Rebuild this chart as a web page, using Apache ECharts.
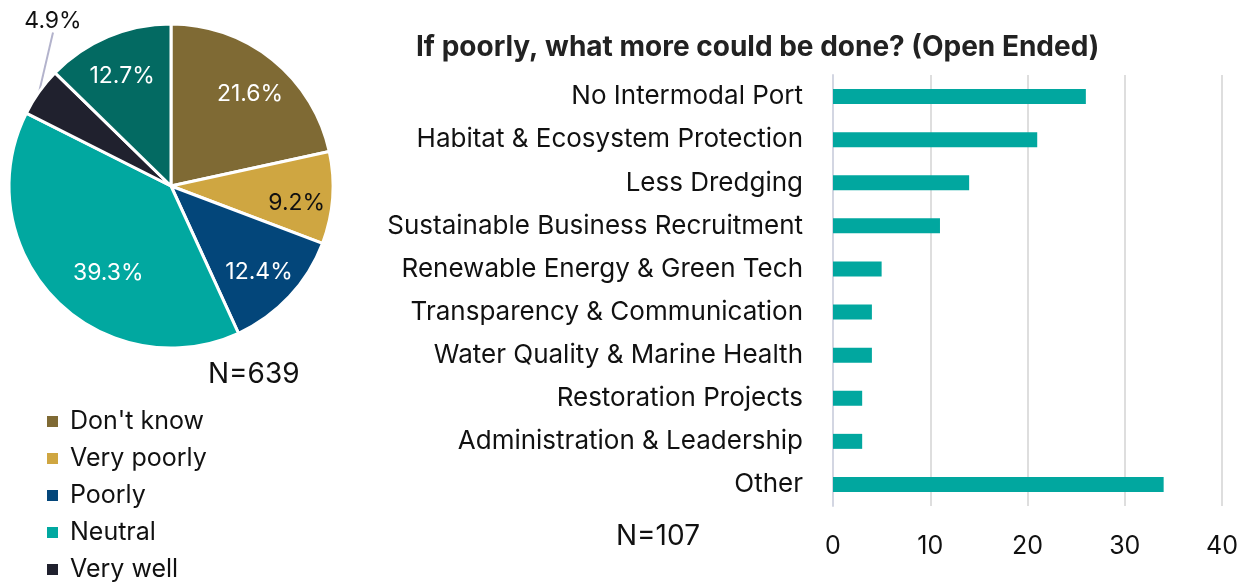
<!DOCTYPE html>
<html>
<head>
<meta charset="utf-8">
<style>
  html, body { margin: 0; padding: 0; background: #ffffff; }
  #chart { width: 1247px; height: 582px; }
</style>
<script src="https://cdn.jsdelivr.net/npm/echarts@6/dist/echarts.min.js"></script>
</head>
<body>
<div id="chart"></div>
<script>
// Rating of how well things are going (share of respondents, %)
const ratingNames = ["Don't know", 'Very poorly', 'Poorly', 'Neutral', 'Very well', 'Well'];
const ratingShares = [21.6, 9.2, 12.4, 39.3, 4.9, 12.7];
const ratingColors = ['#7f6a34', '#cfa641', '#03467a', '#01a8a0', '#20212e', '#036a62'];
const ratingN = 'N=639';

// Open-ended suggestions from those who answered "poorly"
const ideaNames = [
  'No Intermodal Port',
  'Habitat & Ecosystem Protection',
  'Less Dredging',
  'Sustainable Business Recruitment',
  'Renewable Energy & Green Tech',
  'Transparency & Communication',
  'Water Quality & Marine Health',
  'Restoration Projects',
  'Administration & Leadership',
  'Other'
];
const ideaCounts = [26, 21, 14, 11, 5, 4, 4, 3, 3, 34];
const ideaTicks = [0, 10, 20, 30, 40];
const ideaN = 'N=107';
const ideaTitle = 'If poorly, what more could be done? (Open Ended)';

const FONT = 'Inter, "Open Sans", sans-serif';
const OUTSIDE_IDX = 4; // the thin slice gets its label outside

// small hand nudges for a few inside labels
const labelNudge = {
  "Don't know": { dy: 6 },
  'Very poorly': { dy: 8 },
  'Poorly': { dx: -4 },
  'Neutral': { dx: 28 },
  'Well': { dy: 6 }
};

const chart = echarts.init(document.getElementById('chart'), null, { renderer: 'canvas' });

// Filled slices; only the thin slice carries its own (outside) label
const pieData = ratingNames.map((name, i) => ({
  name,
  value: ratingShares[i],
  itemStyle: { color: ratingColors[i] },
  label: { show: i === OUTSIDE_IDX },
  labelLine: { show: i === OUTSIDE_IDX }
}));

// Transparent ring used only to place the inside percentage labels further out
const labelRingData = ratingNames.map((name, i) => ({
  name,
  value: ratingShares[i],
  label: {
    show: i !== OUTSIDE_IDX,
    color: i === 1 ? '#111111' : '#ffffff'
  }
}));

const option = {
  animation: false,
  backgroundColor: '#ffffff',
  textStyle: { fontFamily: FONT },
  title: {
    text: ideaTitle,
    left: 411,
    top: 29,
    textStyle: { fontFamily: FONT, fontWeight: 'bold', fontSize: 28, color: '#222222' }
  },
  legend: {
    data: ratingNames,
    orient: 'vertical',
    left: 40,
    top: 404,
    height: 260,
    icon: 'rect',
    itemWidth: 13,
    itemHeight: 13,
    itemGap: 12,
    selectedMode: false,
    textStyle: { fontFamily: FONT, fontSize: 25, color: '#111111', padding: [0, 0, 0, 6] }
  },
  grid: { left: 833, right: 25, top: 75, bottom: 76 },
  xAxis: {
    type: 'value',
    min: ideaTicks[0],
    max: ideaTicks[ideaTicks.length - 1],
    interval: ideaTicks[1] - ideaTicks[0],
    axisLine: { show: false },
    axisTick: { show: false },
    splitLine: { show: true, lineStyle: { color: '#dedede', width: 2 } },
    axisLabel: { margin: 28, fontSize: 25, color: '#111111', fontFamily: FONT }
  },
  yAxis: {
    type: 'category',
    data: ideaNames,
    inverse: true,
    axisLine: { show: true, lineStyle: { color: '#d3d6e2', width: 2 } },
    axisTick: { show: false },
    axisLabel: { margin: 30, fontSize: 26, color: '#111111', fontFamily: FONT }
  },
  series: [
    {
      type: 'bar',
      data: ideaCounts,
      barWidth: 15,
      itemStyle: { color: '#01a79f' },
      silent: true
    },
    {
      type: 'pie',
      center: [171, 186],
      radius: [0, 162],
      startAngle: 90,
      clockwise: true,
      silent: true,
      itemStyle: { borderColor: '#ffffff', borderWidth: 3 },
      label: {
        position: 'outside',
        formatter: '{c}%',
        fontSize: 23,
        fontFamily: FONT,
        color: '#111111',
        overflow: 'none',
        bleedMargin: 0
      },
      labelLine: { length: 8, length2: 0, lineStyle: { color: '#b3b3cc', width: 2 } },
      labelLayout: (p) => (p.dataIndex === OUTSIDE_IDX
        ? { x: 53, y: 21, align: 'center', verticalAlign: 'middle' }
        : {}),
      data: pieData
    },
    {
      type: 'pie',
      center: [171, 186],
      radius: [84, 162],
      startAngle: 90,
      clockwise: true,
      silent: true,
      itemStyle: { color: 'rgba(0,0,0,0)' },
      label: {
        position: 'inside',
        formatter: '{c}%',
        fontSize: 23,
        fontFamily: FONT
      },
      labelLine: { show: false },
      labelLayout: (p) => labelNudge[ratingNames[p.dataIndex]] || {},
      data: labelRingData
    }
  ],
  graphic: [
    {
      type: 'text',
      left: 208,
      top: 361,
      style: { text: ratingN, fontSize: 28, fontFamily: FONT, fill: '#111111' }
    },
    {
      type: 'text',
      left: 616,
      top: 523,
      style: { text: ideaN, fontSize: 28, fontFamily: FONT, fill: '#111111' }
    }
  ]
};

chart.setOption(option);
</script>
</body>
</html>
